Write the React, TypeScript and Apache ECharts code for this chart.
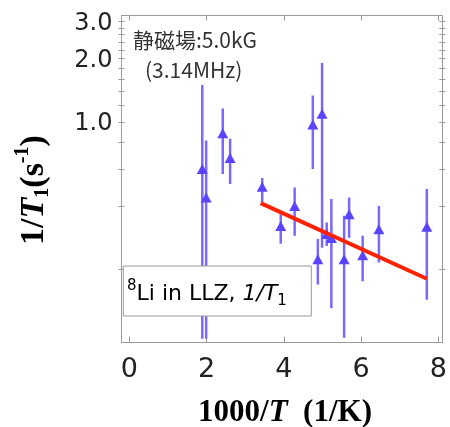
import React, { useEffect, useRef } from "react";
import * as echarts from "echarts";

// 1000/T (1/K)
const xVals = [1.89, 1.99, 2.42, 2.61, 3.44, 3.92, 4.28, 4.75, 4.88, 4.99, 5.11, 5.23, 5.56, 5.69, 6.04, 6.46, 7.7];
// 1/T1 (s^-1)
const yVals = [0.6, 0.44, 0.887, 0.677, 0.494, 0.322, 0.401, 0.975, 0.224, 1.096, 0.295, 0.282, 0.224, 0.366, 0.234, 0.311, 0.319];
const yLow = [0.094, 0.094, 0.568, 0.509, 0.416, 0.265, 0.289, 0.6, 0.17, 0.254, 0.259, 0.131, 0.095, 0.283, 0.176, 0.216, 0.144];
const yHigh = [1.5, 0.82, 1.16, 0.834, 0.544, 0.366, 0.49, 1.34, 0.279, 1.91, 0.334, 0.432, 0.36, 0.44, 0.289, 0.401, 0.482];
// fit line
const fitX = [3.4, 7.7];
const fitY = [0.413, 0.181];
// ticks
const xTicks = [0, 2, 4, 6, 8];
const yLabelTicks = [1, 2, 3];
const yMinorTicks = [0.2, 0.4, 0.6, 0.8, 1.0, 1.2, 1.4, 1.6, 1.8, 2.0, 2.2, 2.4, 2.6, 2.8, 3.0];

const SANS = "'DejaVu Sans', sans-serif";
const SERIF = "'Liberation Serif', 'DejaVu Serif', serif";
const AXIS_COLOR = "#9a9a9a";
const X_MIN = -0.2, X_MAX = 8.1, Y_MIN = 0.09, Y_MAX = 3.2;

export default function App() {
  const ref = useRef<HTMLDivElement>(null);
  useEffect(() => {
    if (!ref.current) return;
    const chart = echarts.init(ref.current, null, { renderer: "svg" });
    const xAxisBase = (pos: string, showLabel: boolean, tickLen: number) => ({
      type: "value",
      position: pos,
      min: X_MIN,
      max: X_MAX,
      axisLine: { show: true, onZero: false, lineStyle: { color: AXIS_COLOR, width: 1 } },
      axisTick: { show: true, inside: true, length: tickLen, customValues: xTicks, lineStyle: { color: AXIS_COLOR } },
      axisLabel: {
        show: showLabel,
        customValues: xTicks,
        fontSize: 27,
        color: "#222",
        fontFamily: SANS,
        margin: 11,
      },
      splitLine: { show: false },
    });
    const yAxisBase = (pos: string, inside: boolean, showLabel: boolean) => ({
      type: "log",
      logBase: 10,
      position: pos,
      min: Y_MIN,
      max: Y_MAX,
      axisLine: { show: true, onZero: false, lineStyle: { color: AXIS_COLOR, width: 1 } },
      axisTick: { show: true, inside, length: 3, customValues: yMinorTicks, lineStyle: { color: AXIS_COLOR } },
      axisLabel: {
        show: showLabel,
        customValues: yLabelTicks,
        formatter: (v: number) => v.toFixed(1),
        fontSize: 24,
        color: "#222",
        fontFamily: SANS,
        margin: 9,
      },
      splitLine: { show: false },
      minorTick: { show: false },
    });

    const option: any = {
      animation: false,
      grid: { left: 121.5, right: 5.6, top: 15.7, bottom: 84.3, containLabel: false },
      xAxis: [xAxisBase("bottom", true, 6), xAxisBase("top", false, 5)],
      yAxis: [
        yAxisBase("left", false, true),
        yAxisBase("left", true, false),
        yAxisBase("right", false, false),
        yAxisBase("right", true, false),
      ],
      series: [
        {
          type: "custom",
          xAxisIndex: 0,
          yAxisIndex: 0,
          clip: true,
          z: 1,
          data: xVals.map((x, i) => [x, yLow[i], yHigh[i]]),
          renderItem: (params: any, api: any) => {
            const x = api.value(0);
            const p1 = api.coord([x, api.value(1)]);
            const p2 = api.coord([x, api.value(2)]);
            return {
              type: "line",
              shape: { x1: p1[0], y1: p1[1], x2: p2[0], y2: p2[1] },
              style: { stroke: "#7a68ff", lineWidth: 2.5 },
            };
          },
        },
        {
          type: "scatter",
          xAxisIndex: 0,
          yAxisIndex: 0,
          z: 2,
          symbol: "triangle",
          symbolSize: [11, 10],
          itemStyle: { color: "#5a44ff", opacity: 1 },
          data: xVals.map((x, i) => [x, yVals[i]]),
        },
        {
          type: "line",
          xAxisIndex: 0,
          yAxisIndex: 0,
          z: 3,
          symbol: "none",
          lineStyle: { color: "#ff2200", width: 4 },
          data: fitX.map((x, i) => [x, fitY[i]]),
        },
      ],
      graphic: [
        {
          type: "text",
          left: 133,
          top: 28,
          z: 50,
          style: { text: "静磁場:5.0kG", font: "21px 'Noto Sans CJK JP', sans-serif", fill: "#333" },
        },
        {
          type: "text",
          left: 145,
          top: 58,
          z: 50,
          style: { text: "(3.14MHz)", font: "21px 'Noto Sans CJK JP', sans-serif", fill: "#333" },
        },
        {
          type: "rect",
          z: 100,
          shape: { x: 123.3, y: 266, width: 188, height: 50 },
          style: { fill: "#fff", stroke: "#999", lineWidth: 1 },
        },
        {
          type: "text",
          z: 101,
          x: 127,
          y: 292,
          style: {
            text: "{sp|8}{n|Li in LLZ, }{i|1/T}{sb|1}",
            verticalAlign: "middle",
            rich: {
              n: { fontSize: 22, fontFamily: SANS, color: "#222", lineHeight: 30 },
              i: { fontSize: 22, fontFamily: SANS, fontStyle: "italic", color: "#222", lineHeight: 30 },
              sp: { fontSize: 15, fontFamily: SANS, color: "#222", verticalAlign: "top", lineHeight: 30, padding: [0, 0, 10, 0] },
              sb: { fontSize: 15, fontFamily: SANS, color: "#222", verticalAlign: "bottom", lineHeight: 30, padding: [8, 0, 0, 0] },
            },
          },
        },
        {
          type: "text",
          z: 50,
          x: 31,
          y: 190,
          rotation: Math.PI / 2,
          style: {
            text: "{n|1/}{i|T}{sb|1}{n|(s}{sp|-1}{n|)}",
            align: "center",
            verticalAlign: "middle",
            rich: {
              n: { fontSize: 34, fontFamily: SERIF, fontWeight: "bold", color: "#111", lineHeight: 40 },
              i: { fontSize: 34, fontFamily: SERIF, fontWeight: "bold", fontStyle: "italic", color: "#111", lineHeight: 40 },
              sp: { fontSize: 20, fontFamily: SERIF, fontWeight: "bold", color: "#111", lineHeight: 40, verticalAlign: "top", padding: [0, 0, 12, 0] },
              sb: { fontSize: 20, fontFamily: SERIF, fontWeight: "bold", color: "#111", lineHeight: 40, verticalAlign: "bottom", padding: [10, 0, 0, 0] },
            },
          },
        },
        {
          type: "text",
          z: 50,
          x: 285,
          y: 410,
          style: {
            text: "{n|1000/}{i|T}{n|  (1/K)}",
            align: "center",
            verticalAlign: "middle",
            rich: {
              n: { fontSize: 31, fontFamily: SERIF, fontWeight: "bold", color: "#111" },
              i: { fontSize: 31, fontFamily: SERIF, fontWeight: "bold", fontStyle: "italic", color: "#111" },
            },
          },
        },
      ],
    };
    chart.setOption(option);
    return () => chart.dispose();
  }, []);
  return (
    <div
      ref={ref}
      style={{ position: "fixed", left: 0, top: 0, width: 450, height: 427 }}
    />
  );
}
